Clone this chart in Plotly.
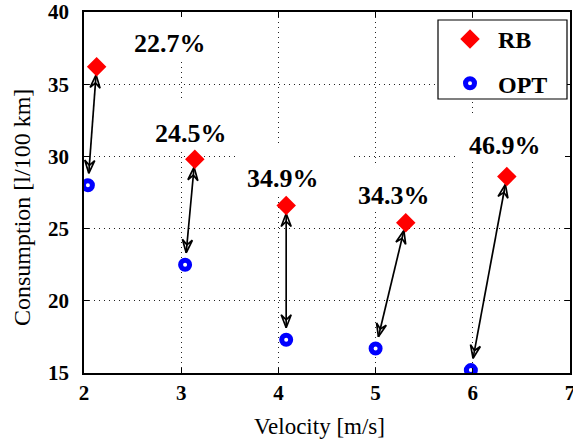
import math
import plotly.graph_objects as go

# ---- data ----
velocity_rb = [2.13, 3.14, 4.08, 5.31, 6.35]
consumption_rb = [36.2, 29.8, 26.6, 25.4, 28.6]
velocity_opt = [2.04, 3.04, 4.08, 5.00, 5.98]
consumption_opt = [28.0, 22.5, 17.3, 16.7, 15.2]
saving_labels = ["22.7%", "24.5%", "34.9%", "34.3%", "46.9%"]
label_x = [2.88, 3.10, 4.05, 5.19, 6.33]
label_y = [37.8, 31.6, 28.5, 27.3, 30.75]
x_ticks = [2, 3, 4, 5, 6, 7]
y_ticks = [15, 20, 25, 30, 35, 40]
x_title = "Velocity [m/s]"
y_title = "Consumption [l/100 km]"

SERIF = "Liberation Serif"
W, H = 573, 441
M = dict(l=84, r=3, t=12, b=68)
X_RANGE = [2, 7]
Y_RANGE = [15, 40]
PW = W - M["l"] - M["r"]
PH = H - M["t"] - M["b"]

# pixel scale of the axes (used only to shape the arrow heads)
sx = PW / (X_RANGE[1] - X_RANGE[0])
sy = PH / (Y_RANGE[1] - Y_RANGE[0])

HEAD_LEN, HEAD_HALF, NOTCH = 13.0, 5.0, 8.0
STAND_RB, STAND_OPT = 8.0, 12.0

ax_x, ax_y = [], []
for xr, yr, xo, yo in zip(velocity_rb, consumption_rb, velocity_opt, consumption_opt):
    p0 = (xo * sx, yo * sy)
    p1 = (xr * sx, yr * sy)
    dx, dy = p1[0] - p0[0], p1[1] - p0[1]
    L = math.hypot(dx, dy)
    ux, uy = dx / L, dy / L
    t_end = (p1[0] - ux * STAND_RB, p1[1] - uy * STAND_RB)
    t_start = (p0[0] + ux * STAND_OPT, p0[1] + uy * STAND_OPT)
    for p in (t_start, t_end):
        ax_x.append(p[0] / sx); ax_y.append(p[1] / sy)
    ax_x.append(None); ax_y.append(None)
    for tip, (vx, vy) in ((t_end, (ux, uy)), (t_start, (-ux, -uy))):
        wx, wy = -vy, vx
        back = (tip[0] - vx * HEAD_LEN, tip[1] - vy * HEAD_LEN)
        notch = (tip[0] - vx * NOTCH, tip[1] - vy * NOTCH)
        w1 = (back[0] + wx * HEAD_HALF, back[1] + wy * HEAD_HALF)
        w2 = (back[0] - wx * HEAD_HALF, back[1] - wy * HEAD_HALF)
        for p in (tip, w1, notch, w2, tip):
            ax_x.append(p[0] / sx); ax_y.append(p[1] / sy)
        ax_x.append(None); ax_y.append(None)

fig = go.Figure()

fig.add_trace(go.Scatter(
    x=ax_x, y=ax_y, mode="lines", showlegend=False, hoverinfo="skip",
    line=dict(color="black", width=1.7),
))
fig.add_trace(go.Scatter(
    x=velocity_rb, y=consumption_rb, mode="markers", name="RB",
    legendgroup="rb",
    marker=dict(symbol="diamond", size=15, color="red", line=dict(width=0)),
))
fig.add_trace(go.Scatter(
    x=velocity_opt, y=consumption_opt, mode="markers", name="OPT",
    legendgroup="opt",
    marker=dict(symbol="circle", size=9, color="white",
                line=dict(width=5, color="blue")),
))

annotations = []
shapes = []
for lx, ly, txt in zip(label_x, label_y, saving_labels):
    annotations.append(dict(
        x=lx, y=ly, xref="x", yref="y", text=txt, showarrow=False,
        xanchor="center", yanchor="middle",
        font=dict(family=SERIF, size=26, color="black", weight="bold"),
    ))
    shapes.append(dict(
        type="rect", layer="between", xref="x", yref="y",
        xsizemode="pixel", ysizemode="pixel", xanchor=lx, yanchor=ly,
        x0=-48, x1=68, y0=-16, y1=32,
        fillcolor="white", line=dict(width=0),
    ))

# axis titles (placed like the reference, slightly off-centre)
annotations.append(dict(
    text=x_title, xref="paper", yref="paper",
    x=(319 - M["l"]) / PW, y=-(426 - (H - M["b"])) / PH,
    xanchor="center", yanchor="middle", showarrow=False,
    font=dict(family=SERIF, size=23, color="black"),
))
annotations.append(dict(
    text=y_title, xref="paper", yref="paper", textangle=-90,
    x=-(M["l"] - 22) / PW, y=((H - M["b"]) - 208) / PH,
    xanchor="center", yanchor="middle", showarrow=False,
    font=dict(family=SERIF, size=24, color="black"),
))

# legend frame
LEG = dict(x0=438, x1=567, y0=20, y1=99)
shapes.append(dict(
    type="rect", layer="above", xref="paper", yref="paper",
    x0=(LEG["x0"] - M["l"]) / PW, x1=(LEG["x1"] - M["l"]) / PW,
    y0=((H - M["b"]) - LEG["y1"]) / PH, y1=((H - M["b"]) - LEG["y0"]) / PH,
    fillcolor="white", line=dict(color="black", width=1.2),
))

axis_common = dict(
    showline=True, linecolor="black", linewidth=1.7, mirror="ticks",
    ticks="inside", ticklen=5, tickwidth=1, tickcolor="black",
    showgrid=True, gridcolor="#222", gridwidth=1, griddash="1px,4px",
    zeroline=False, automargin=False, ticklabeloverflow="allow",
    tickfont=dict(family=SERIF, size=21, color="black", weight="bold"),
)

fig.update_layout(
    width=W, height=H,
    margin=M,
    paper_bgcolor="white", plot_bgcolor="white",
    xaxis=dict(range=X_RANGE, tickvals=x_ticks, **axis_common),
    yaxis=dict(range=Y_RANGE, tickvals=y_ticks, ticklabelstandoff=9, **axis_common),
    legend=dict(x=(442 - M["l"]) / PW, y=((H - M["b"]) - 17) / PH,
                xanchor="left", yanchor="top",
                bgcolor="rgba(0,0,0,0)", borderwidth=0,
                tracegroupgap=10, itemwidth=46,
                font=dict(family=SERIF, size=24, color="black", weight="bold")),
    annotations=annotations, shapes=shapes,
    showlegend=True,
)

fig.write_html("out.html",
               config=dict(displayModeBar=False),
               post_script="document.body.style.margin='0';")
